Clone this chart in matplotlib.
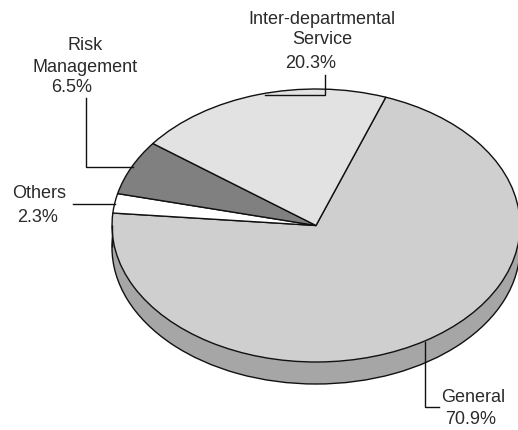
import numpy as np
import matplotlib
matplotlib.use("Agg")
import matplotlib.pyplot as plt

categories = ["General", "Others", "Risk\nManagement", "Inter-departmental\nService"]
values = [70.9, 2.3, 6.5, 20.3]
slice_colors = ["#cfcfcf", "#ffffff", "#808080", "#e2e2e2"]
wall_color = "#a6a6a6"
text_color = "#2a2a2a"
edge_color = "#111111"

W, H = 518, 430
CX, CY, RX, RY, DEPTH = 316, 225.5, 204, 136.5, 22
LW = 1.0

plt.rcParams["font.family"] = ["Liberation Sans", "DejaVu Sans"]
fig = plt.figure(figsize=(W / 100, H / 100), dpi=100, facecolor="white")

# Pie axes: one data unit is the ellipse radius on each axis
ax = fig.add_axes([0, 0, 1, 1])
d = DEPTH / RY
edge = dict(edgecolor=edge_color, linewidth=LW)
ax.pie([1], colors=[wall_color], center=(0, -d), radius=1, wedgeprops=edge)
xs = np.linspace(-1, 1, 2)
ax.fill_between(xs, -d, 0, color=wall_color, linewidth=0)
ax.vlines([-1, 1], -d, 0, color=edge_color, linewidth=LW)
ax.pie(values, colors=slice_colors, startangle=70, counterclock=False,
       radius=1, wedgeprops=dict(edgecolor=edge_color, linewidth=LW, joinstyle="round"))
ax.set_aspect("auto")
ax.set_xlim(-CX / RX, (W - CX) / RX)
ax.set_ylim((CY - H) / RY, CY / RY)
ax.axis("off")

# Overlay in pixel coordinates for labels and leader lines
ov = fig.add_axes([0, 0, 1, 1], facecolor="none")
ov.set_xlim(0, W)
ov.set_ylim(H, 0)
ov.axis("off")

labels = [
    ("Inter-departmental", 322, 19), ("Service", 322, 40), ("20.3%", 311, 63),
    ("Risk", 85, 46), ("Management", 85, 67), ("6.5%", 72, 88),
    ("Others", 39, 194), ("2.3%", 38, 217),
    ("General", 473, 397), ("70.9%", 471, 419),
]
for s, x, y in labels:
    ov.text(x, y, s, ha="center", va="center", fontsize=13, color=text_color)

leaders = [
    ([86, 86, 133], [98, 167, 167]),
    ([73, 115], [204, 204]),
    ([325, 325, 265], [75, 95, 95]),
    ([425, 425, 439], [342, 407, 407]),
]
for lx, ly in leaders:
    ov.plot(lx, ly, color=edge_color, linewidth=LW, solid_joinstyle="miter")

fig.savefig("out.png", dpi=100, facecolor="white")
